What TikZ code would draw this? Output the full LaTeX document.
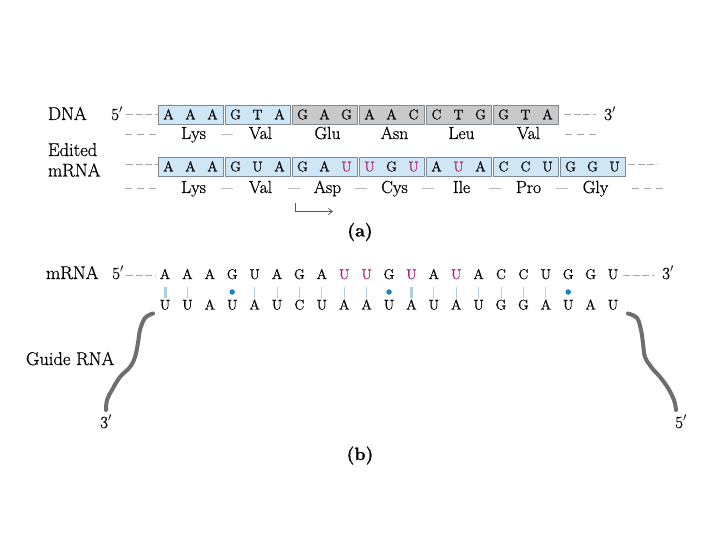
\documentclass[tikz,border=0pt]{standalone}
\usepackage{fix-cm}
\usepackage{fontspec}
\setmainfont{Latin Modern Roman}[FakeBold=0.8]
\usetikzlibrary{arrows.meta,calc}
\definecolor{boxblue}{HTML}{CFE6F7}
\definecolor{boxgray}{HTML}{C9C9C9}
\definecolor{boxedge}{HTML}{7F8A94}
\definecolor{magU}{HTML}{B0207F}
\definecolor{dashgray}{HTML}{A8A8A8}
\definecolor{pairblue}{HTML}{A9CFE3}
\definecolor{dotblue}{HTML}{1F7FBF}
\definecolor{strand}{HTML}{6E6E6E}
\newcommand{\mU}{\textcolor{magU}{U}}
\begin{document}
\begin{tikzpicture}[x=1pt,y=-1pt,
  every node/.style={inner sep=0pt, outer sep=0pt},
  lab/.style={font=\fontsize{18.5}{21}\selectfont, anchor=base west},
  prim/.style={font=\fontsize{17}{20}\selectfont, anchor=base},
  nt/.style={font=\fontsize{14}{16}\selectfont, anchor=base},
  aa/.style={font=\fontsize{17.5}{20}\selectfont, anchor=base},
  tag/.style={font=\fontsize{18}{21}\selectfont\bfseries, anchor=base},
  codon/.style={draw=boxedge, line width=0.8pt, minimum width=65pt, minimum height=19pt},
  gap/.style={draw=dashgray, line width=1pt, dash pattern=on 7pt off 2.5pt},
  aagap/.style={draw=dashgray, line width=1pt, dash pattern=on 7pt off 5pt},
  link/.style={draw=dashgray!80, line width=1pt},
  pair/.style={draw=pairblue, line width=1pt},
  strongpair/.style={draw=pairblue, line width=3pt},
  wobble/.style={fill=dotblue, circle, minimum size=5.5pt},
  strandline/.style={draw=strand, line width=4pt, line cap=round, line join=round},
]
\useasboundingbox (0,0) rectangle (720,540);

% ---------------- (a) DNA row
\node[lab] (dnalab) at (48,120) {DNA};
\node[prim] (d5) at (117,120) {5$'$};
\foreach \k/\a/\b/\c/\f in {0/A/A/A/boxblue,1/G/T/A/boxblue,2/G/A/G/boxgray,3/A/A/C/boxgray,4/C/T/G/boxgray,5/G/T/A/boxgray}{
  \pgfmathsetmacro\cx{190.5+67*\k}
  \node[codon, fill=\f] (dbox\k) at (\cx,114.5) {};
  \node[nt] (dn\k a) at (\cx-22,119.3) {\a};
  \node[nt] (dn\k b) at (\cx,119.3) {\b};
  \node[nt] (dn\k c) at (\cx+22,119.3) {\c};
}
\node[prim] (d3) at (610,120) {3$'$};
\coordinate (dl) at (126,114.5);
\draw[gap] (dl) -- (dbox0.west);
\draw[gap] (dbox5.east) ++(6,0) coordinate (dr) -- ($(d3.base west)+(-8,-5.5)$);

% amino acids row 1
\foreach \k/\n in {0/Lys,1/Val,2/Glu,3/Asn,4/Leu,5/Val}{
  \node[aa] (aa1\k) at ({193.5+67*\k},139) {\n};
}
\draw[aagap] (125,134.5) coordinate (a1l) -- (157,134.5);
\draw[aagap] (565,134.5) coordinate (a1r) -- (596,134.5);
\draw[link] ($(aa10.base)!0.5!(aa11.base)+(-6,-4.5)$) -- ++(12,0);

% ---------------- Edited mRNA row
\node[lab] (edlab) at (48,156) {Edited};
\node[lab] (mrlab) at (48,176.5) {mRNA};
\foreach \k/\a/\b/\c in {0/A/A/A,1/G/U/A,2/G/A/\mU,3/\mU/G/\mU,4/A/\mU/A,5/C/C/U,6/G/G/U}{
  \pgfmathsetmacro\cx{190.5+67*\k}
  \node[codon, fill=boxblue] (mbox\k) at (\cx,166.5) {};
  \node[nt] (mn\k a) at (\cx-22,171.3) {\a};
  \node[nt] (mn\k b) at (\cx,171.3) {\b};
  \node[nt] (mn\k c) at (\cx+22,171.3) {\c};
}
\draw[gap] (126,165) coordinate (ml) -- (mbox0.west |- 0,165);
\draw[gap] ($(mbox6.east)+(3,-1.5)$) coordinate (mr) -- ++(30,0);

% amino acids row 2
\foreach \k/\n in {0/Lys,1/Val,2/Asp,3/Cys,4/Ile,5/Pro,6/Gly}{
  \node[aa] (aa2\k) at ({193.5+67*\k},193) {\n};
}
\foreach \i [evaluate=\i as \j using int(\i+1)] in {0,...,5}{
  \draw[link] ($(aa2\i.base)!0.5!(aa2\j.base)+(-6,-4.5)$) -- ++(12,0);
}
\draw[aagap] (125,188.5) coordinate (a2l) -- (157,188.5);
\draw[aagap] (632,188.5) coordinate (a2r) -- (663,188.5);

% reading arrow
\coordinate (arA) at (295,203);
\coordinate (arB) at (295,211.5);
\coordinate (arC) at (333,211.5);
\draw[strand!80!black, line width=0.8pt, -{Straight Barb[length=4pt,width=6pt]}] (arA) -- (arB) -- (arC);

\node[tag] (taga) at (360,236.5) {(a)};

% ---------------- (b)
\node[lab] (mlab) at (46,279) {mRNA};
\node[prim] (b5) at (118,279) {5$'$};
\def\mseq{A,A,A,G,U,A,G,A,\mU,\mU,G,\mU,A,\mU,A,C,C,U,G,G,U}
\def\gseq{U,U,A,U,A,U,C,U,A,A,U,A,U,A,U,G,G,A,U,A,U}
\foreach \l [count=\i] in \mseq{
  \node[nt] (m\i) at ({165+22.4*(\i-1)},279) {\l};
}
\foreach \l [count=\i] in \gseq{
  \node[nt] (g\i) at ({165+22.4*(\i-1)},309.5) {\l};
}
\draw[gap] (126,275.5) coordinate (bl) -- (155,275.5);
\draw[gap] (623,275.5) coordinate (br) -- (654,275.5);
\node[prim] (b3) at (668,279) {3$'$};

% pairing
\foreach \i in {2,5,6,7,8,9,10,13,14,15,16,17,18}{
  \draw[pair] (m\i.base |- 0,287) -- (g\i.base |- 0,298);
}
\foreach \i in {1,12}{
  \draw[strongpair] (m\i.base |- 0,287) -- (g\i.base |- 0,298);
}
\foreach \i in {4,11,19}{
  \node[wobble] (w\i) at (m\i.base |- 0,292) {};
}

% guide RNA strands
\coordinate (sl0) at ($(g1.base)+(-12,4)$);
\draw[strandline] plot[smooth, tension=0.6] coordinates {(sl0) (145,318) (140,330) (138,343) (135,357) (130,367) (120,377) (112,390) (107,400) (106,410)};
\coordinate (sr0) at ($(g21.base)+(15,4)$);
\draw[strandline] plot[smooth, tension=0.6] coordinates {(sr0) (637,318) (641,330) (643,343) (645,357) (652,368) (660,377) (668,388) (674,400) (676,410)};
\node[prim] (g3p) at (106,428) {3$'$};
\node[prim] (g5p) at (681,428) {5$'$};
\node[lab] (glab) at (26,365) {Guide RNA};

\node[tag] (tagb) at (360,460) {(b)};
\end{tikzpicture}
\end{document}
